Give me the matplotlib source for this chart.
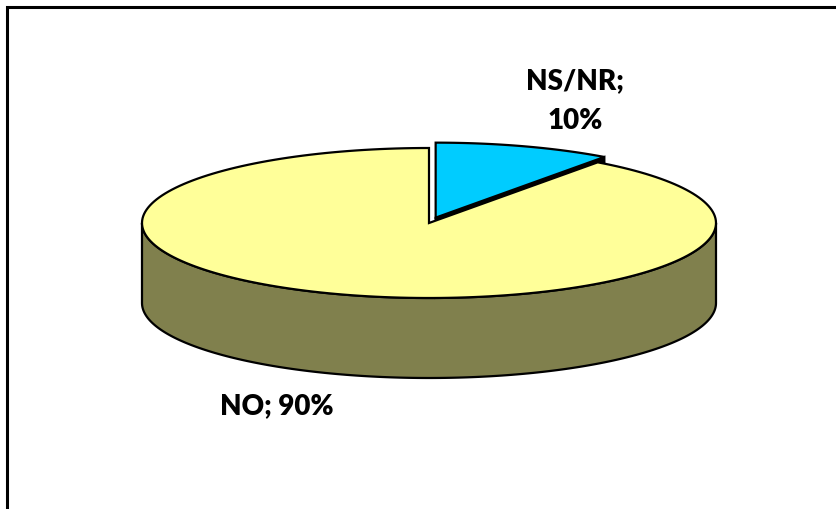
import numpy as np
import matplotlib.pyplot as plt
from matplotlib.patches import Polygon

labels = ["NO", "NS/NR"]
values = [90, 10]
colors = ["#FFFF99", "#00CCFF"]
side_color = "#80804D"

W, H = 837, 510
# pie geometry in pixel units (y grows downward)
CX, CY = 429, 224
RX, RY = 287, 75
DEPTH = 80
START = 36          # first slice starts this many degrees clockwise from 12 o'clock
EXPLODE = [0.0, 0.075]
LW = 1.6


def arc(t0, t1, dx=0, dy=0, down=0, n=200):
    t = np.radians(np.linspace(t0, t1, n))
    return np.column_stack([CX + dx + RX * np.sin(t), CY + dy + down - RY * np.cos(t)])


fig = plt.figure(figsize=(W / 100, H / 100), dpi=100)
ax = fig.add_axes([0, 0, 1, 1])
ax.set_xlim(0, W)
ax.set_ylim(H, 0)
ax.axis("off")

# chart frame (only top and left edges fall inside the image)
ax.plot([7, 7, W + 10], [H + 10, 7.5, 7.5], color="black", lw=2.2,
        solid_joinstyle="miter", zorder=10)

total = sum(values)
angles = np.cumsum([0] + [v / total * 360 for v in values]) + START

slices = []
for i, (lab, val) in enumerate(zip(labels, values)):
    t0, t1 = angles[i], angles[i + 1]
    mid = np.radians((t0 + t1) / 2)
    dx = EXPLODE[i] * RX * np.sin(mid)
    dy = -EXPLODE[i] * RY * np.cos(mid)
    slices.append((t0, t1, dx, dy))

# side wall of the front half
t0, t1, dx, dy = slices[0]
front = np.vstack([arc(90, 270, dx, dy), arc(270, 90, dx, dy, DEPTH)])
ax.add_patch(Polygon(front, closed=True, fc=side_color, ec="black", lw=LW, zorder=1))

# exploded slice: radial wall (mostly hidden) and top face
t0, t1, dx, dy = slices[1]
p_top = arc(t1, t1, dx, dy, n=1)[0]
c = np.array([CX + dx, CY + dy])
wall = np.array([c, p_top, p_top + [0, DEPTH], c + [0, DEPTH]])
ax.add_patch(Polygon(wall, closed=True, fc="black", ec="black", lw=LW, zorder=2))
top = np.vstack([[c], arc(t0, t1, dx, dy)])
ax.add_patch(Polygon(top, closed=True, fc=colors[1], ec="black", lw=LW, zorder=3))

# main slice top face
t0, t1, dx, dy = slices[0]
top = np.vstack([[[CX + dx, CY + dy]], arc(t0, t1, dx, dy)])
ax.add_patch(Polygon(top, closed=True, fc=colors[0], ec="black", lw=LW,
                     joinstyle="miter", zorder=4))

font = dict(family=["Lato", "DejaVu Sans"], fontweight="heavy", fontsize=20,
            color="black", zorder=11)
ax.text(277, 414, f"{labels[0]}; {values[0]}%", ha="center", va="baseline", **font)
ax.text(575, 129, f"{labels[1]};\n{values[1]}%", ha="center", va="baseline",
        linespacing=1.65, **font)

fig.savefig("out.png", dpi=100)
